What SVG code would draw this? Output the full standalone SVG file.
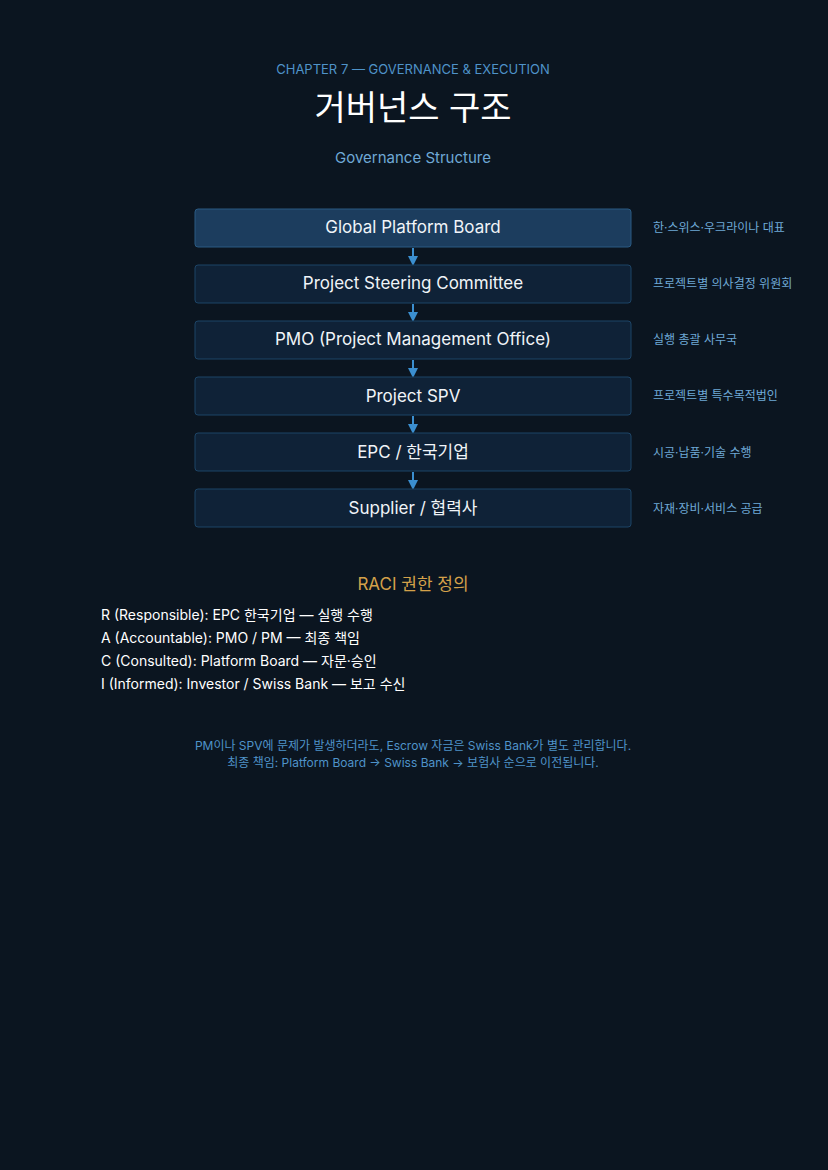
<svg xmlns="http://www.w3.org/2000/svg" width="828" height="1170" viewBox="0 0 828 1170">
<defs>
<style>
text{font-family:Inter,"Noto Sans CJK KR",sans-serif}
.box{fill:#0f2237;stroke:#1d4466;stroke-width:1}
.box1{fill:#1c3d5e;stroke:#2a5a82;stroke-width:1}
.bt{fill:#f0f4f8;font-size:17px;text-anchor:middle}
.side{fill:#6fa9d6;font-size:12px}
.raci{fill:#ffffff;font-size:14px}
.con{stroke:#3b8fd0;stroke-width:2;fill:none}
</style>
<marker id="ah" viewBox="0 0 10 10" refX="8" refY="5" markerWidth="5" markerHeight="5" orient="auto"><path d="M0,0L10,5L0,10z" fill="#3b8fd0"/></marker>
</defs>
<rect width="828" height="1170" fill="#0b1520"/>
<text x="413" y="74" text-anchor="middle" fill="#4f93c9" font-size="13">CHAPTER 7 — GOVERNANCE &amp; EXECUTION</text>
<text x="413" y="120" text-anchor="middle" fill="#ffffff" font-size="34">거버넌스 구조</text>
<text x="413" y="163" text-anchor="middle" fill="#6fa9d6" font-size="15">Governance Structure</text>
<g id="connectors">
<line class="con" x1="413" y1="248" x2="413" y2="264" marker-end="url(#ah)"/>
<line class="con" x1="413" y1="304" x2="413" y2="320" marker-end="url(#ah)"/>
<line class="con" x1="413" y1="360" x2="413" y2="376" marker-end="url(#ah)"/>
<line class="con" x1="413" y1="416" x2="413" y2="432" marker-end="url(#ah)"/>
<line class="con" x1="413" y1="472" x2="413" y2="488" marker-end="url(#ah)"/>
</g>
<g id="n1"><rect class="box1" x="195" y="209" width="436" height="38" rx="3"/><text class="bt" x="413" y="233">Global Platform Board</text><text class="side" x="653" y="232">한·스위스·우크라이나 대표</text></g>
<g id="n2"><rect class="box" x="195" y="265" width="436" height="38" rx="3"/><text class="bt" x="413" y="289">Project Steering Committee</text><text class="side" x="653" y="288">프로젝트별 의사결정 위원회</text></g>
<g id="n3"><rect class="box" x="195" y="321" width="436" height="38" rx="3"/><text class="bt" x="413" y="345">PMO (Project Management Office)</text><text class="side" x="653" y="344">실행 총괄 사무국</text></g>
<g id="n4"><rect class="box" x="195" y="377" width="436" height="38" rx="3"/><text class="bt" x="413" y="402">Project SPV</text><text class="side" x="653" y="400">프로젝트별 특수목적법인</text></g>
<g id="n5"><rect class="box" x="195" y="433" width="436" height="38" rx="3"/><text class="bt" x="413" y="458">EPC / 한국기업</text><text class="side" x="653" y="457">시공·납품·기술 수행</text></g>
<g id="n6"><rect class="box" x="195" y="489" width="436" height="38" rx="3"/><text class="bt" x="413" y="514">Supplier / 협력사</text><text class="side" x="653" y="513">자재·장비·서비스 공급</text></g>
<text x="413" y="590" text-anchor="middle" fill="#d4a14a" font-size="17">RACI 권한 정의</text>
<text class="raci" x="101" y="620">R (Responsible): EPC 한국기업 — 실행 수행</text>
<text class="raci" x="101" y="643">A (Accountable): PMO / PM — 최종 책임</text>
<text class="raci" x="101" y="666">C (Consulted): Platform Board — 자문·승인</text>
<text class="raci" x="101" y="689">I (Informed): Investor / Swiss Bank — 보고 수신</text>
<text x="413" y="750" text-anchor="middle" fill="#4f93c9" font-size="12">PM이나 SPV에 문제가 발생하더라도, Escrow 자금은 Swiss Bank가 별도 관리합니다.</text>
<text x="413" y="767" text-anchor="middle" fill="#4f93c9" font-size="12">최종 책임: Platform Board → Swiss Bank → 보험사 순으로 이전됩니다.</text>
</svg>
